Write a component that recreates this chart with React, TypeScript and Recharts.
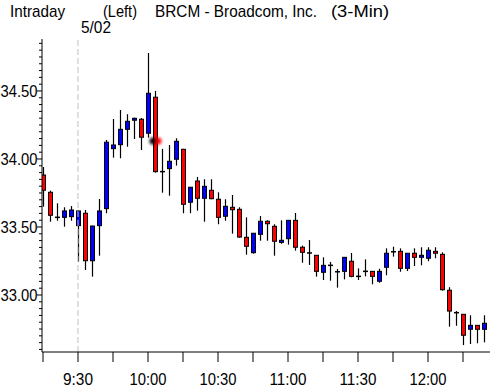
import React from 'react';
import { ComposedChart, Bar, XAxis, YAxis, ReferenceLine, ReferenceDot } from 'recharts';

const FONT = "'Liberation Sans', Arial, sans-serif";
const FONT_SIZE = 17;

// 3-minute candles, 9:15 .. 12:24
const opens = [
  33.882, 33.755, 33.571, 33.571, 33.576, 33.510, 33.601, 33.252, 33.510, 33.635,
  34.076, 34.105, 34.218, 34.285, 34.292, 34.189, 34.454, 33.907, 33.929, 33.998,
  34.071, 33.682, 33.838, 33.711, 33.770, 33.704, 33.579, 33.645, 33.630, 33.424,
  33.311, 33.446, 33.542, 33.505, 33.387, 33.414, 33.549, 33.351, 33.309, 33.292,
  33.167, 33.218, 33.171, 33.174, 33.248, 33.137, 33.174, 33.174, 33.101, 33.204,
  33.318, 33.321, 33.196, 33.307, 33.277, 33.270, 33.321, 33.299, 33.035, 32.870,
  32.858, 32.748, 32.777, 32.748,
];
const highs = [
  33.941, 33.767, 33.674, 33.645, 33.654, 33.620, 33.625, 33.510, 33.706, 34.140,
  34.294, 34.360, 34.329, 34.304, 34.301, 34.779, 34.500, 34.074, 34.103, 34.152,
  34.075, 33.795, 33.868, 33.851, 33.851, 33.755, 33.704, 33.735, 33.645, 33.571,
  33.456, 33.581, 33.549, 33.520, 33.549, 33.551, 33.603, 33.363, 33.404, 33.294,
  33.277, 33.243, 33.191, 33.279, 33.309, 33.196, 33.262, 33.176, 33.193, 33.343,
  33.355, 33.343, 33.309, 33.343, 33.351, 33.351, 33.351, 33.314, 33.057, 32.882,
  32.860, 32.851, 32.779, 32.851,
];
const lows = [
  33.649, 33.539, 33.546, 33.502, 33.546, 33.245, 33.184, 33.135, 33.289, 33.601,
  34.010, 34.005, 34.090, 34.147, 34.066, 34.157, 33.899, 33.752, 33.730, 33.951,
  33.601, 33.601, 33.620, 33.539, 33.704, 33.520, 33.546, 33.451, 33.421, 33.296,
  33.304, 33.399, 33.399, 33.289, 33.377, 33.370, 33.326, 33.237, 33.221, 33.135,
  33.110, 33.105, 33.054, 33.115, 33.130, 33.110, 33.137, 33.079, 33.090, 33.145,
  33.282, 33.171, 33.176, 33.213, 33.218, 33.248, 33.270, 33.032, 32.767, 32.774,
  32.632, 32.640, 32.645, 32.652,
];
const closes = [
  33.770, 33.586, 33.571, 33.618, 33.625, 33.618, 33.252, 33.507, 33.618, 34.123,
  34.103, 34.218, 34.277, 34.299, 34.160, 34.483, 33.907, 33.907, 33.983, 34.130,
  33.667, 33.792, 33.711, 33.799, 33.708, 33.571, 33.652, 33.627, 33.426, 33.358,
  33.454, 33.542, 33.524, 33.395, 33.402, 33.549, 33.351, 33.314, 33.309, 33.174,
  33.218, 33.218, 33.171, 33.277, 33.137, 33.137, 33.174, 33.137, 33.174, 33.307,
  33.318, 33.196, 33.307, 33.277, 33.292, 33.329, 33.307, 33.039, 32.882, 32.870,
  32.704, 32.777, 32.748, 32.792,
];

const timeTickSlots = [0, 5, 10, 15, 20, 25, 30, 35, 40, 45, 50, 55, 60];
const timeTickLabels = ['', '9:30', '', '10:00', '', '10:30', '', '11:00', '', '11:30', '', '12:00', ''];
const priceLabelTicks = [33.0, 33.5, 34.0, 34.5];
const sessionStartSlot = 5;
const markerSlot = 16;
const markerPrice = 34.132;

const chartData = opens.map((open, i) => ({
  slot: i,
  open,
  high: highs[i],
  low: lows[i],
  close: closes[i],
  range: [lows[i], highs[i]],
}));

const priceTicks: number[] = [];
for (let t = 3260; t <= 3485; t += 5) priceTicks.push(t / 100);

// squeezed text to imitate the narrow screen font of the original
const NarrowText = ({ x, y, anchor = 'start', width, children }: any) => (
  <text
    x={x}
    y={y}
    textAnchor={anchor}
    fill="#000"
    fontSize={FONT_SIZE}
    fontFamily={FONT}
    textLength={width ?? String(children).length * 7.4}
    lengthAdjust="spacingAndGlyphs"
  >
    {children}
  </text>
);

const Candle = (props: any) => {
  const { x, y, width, height, payload } = props;
  const { open, high, low, close } = payload;
  const per = height / (high - low);
  const py = (v: number) => y + (high - v) * per;
  const cx = Math.round(x + width / 2);
  const top = py(Math.max(open, close));
  const bottom = py(Math.min(open, close));
  const wick = <line x1={cx + 0.5} x2={cx + 0.5} y1={py(high)} y2={py(low)} stroke="#000" strokeWidth={1.2} />;
  if (open === close) {
    return (
      <g>
        {wick}
        <line x1={cx - 2} x2={cx + 3} y1={top} y2={top} stroke="#000" strokeWidth={1.5} />
      </g>
    );
  }
  return (
    <g>
      {wick}
      <rect
        x={cx - 1.5}
        y={top}
        width={4}
        height={Math.max(bottom - top, 1)}
        fill={close > open ? '#0000ff' : '#ff0000'}
        stroke="#000"
        strokeWidth={1}
      />
    </g>
  );
};

const PriceTick = (props: any) => {
  const { x, y, payload } = props;
  const v = payload.value;
  const major = priceLabelTicks.some(p => Math.abs(p - v) < 1e-6);
  return (
    <g>
      <line x1={x} x2={x - (major ? 5 : 3)} y1={y} y2={y} stroke="#000" />
      {major && (
        <NarrowText x={x - 4.5} y={y + 6} anchor="end" width={37}>
          {v.toFixed(2)}
        </NarrowText>
      )}
    </g>
  );
};

const TimeTick = (props: any) => {
  const { x, payload } = props;
  const label = timeTickLabels[timeTickSlots.indexOf(payload.value)] ?? '';
  if (!label) return <g />;
  return (
    <NarrowText x={x} y={385} anchor="middle" width={label.length === 4 ? 30 : 37}>
      {label}
    </NarrowText>
  );
};

const Marker = (props: any) => {
  const { cx, cy } = props;
  return (
    <g filter="url(#blurMark)">
      <circle cx={cx + 3} cy={cy} r={3.5} fill="#ff0000" />
      <circle cx={cx - 2} cy={cy} r={3.5} fill="#000" />
    </g>
  );
};

const App: React.FC = () => {
  return (
    <div style={{ position: 'absolute', left: 0, top: 0, width: 499, height: 388, background: '#fff' }}>
      <svg width={499} height={40} style={{ position: 'absolute', left: 0, top: 0 }}>
        <NarrowText x={10} y={17} width={55}>Intraday</NarrowText>
        <NarrowText x={103} y={17} width={34}>(Left)</NarrowText>
        <NarrowText x={155} y={17} width={162}>BRCM - Broadcom, Inc.</NarrowText>
        <NarrowText x={331} y={17} width={58}>(3-Min)</NarrowText>
        <NarrowText x={81} y={33} width={30}>5/02</NarrowText>
      </svg>
      <ComposedChart
        width={499}
        height={388}
        data={chartData}
        margin={{ top: 39, right: 9, bottom: 0, left: 0 }}
      >
        <defs>
          <filter id="blurMark" x="-50%" y="-50%" width="200%" height="200%">
            <feGaussianBlur stdDeviation="1.6" />
          </filter>
        </defs>
        <XAxis
          type="number"
          dataKey="slot"
          domain={[-1 / 7, 63 + 6 / 7]}
          ticks={timeTickSlots}
          interval={0}
          tickSize={10}
          tickMargin={11}
          height={36}
          axisLine={{ stroke: '#000' }}
          tickLine={{ stroke: '#000' }}
          tick={<TimeTick />}
          allowDataOverflow
        />
        <YAxis
          type="number"
          domain={[32.581, 34.882]}
          ticks={priceTicks}
          interval={0}
          width={42}
          tickSize={0}
          tickMargin={0}
          tickLine={false}
          axisLine={{ stroke: '#000' }}
          tick={<PriceTick />}
          allowDataOverflow
        />
        <ReferenceLine x={sessionStartSlot} stroke="#c0c0c0" strokeDasharray="6 3" />
        <Bar dataKey="range" barSize={5} shape={<Candle />} isAnimationActive={false} />
        <ReferenceDot x={markerSlot} y={markerPrice} shape={<Marker />} />
      </ComposedChart>
    </div>
  );
};

export default App;
